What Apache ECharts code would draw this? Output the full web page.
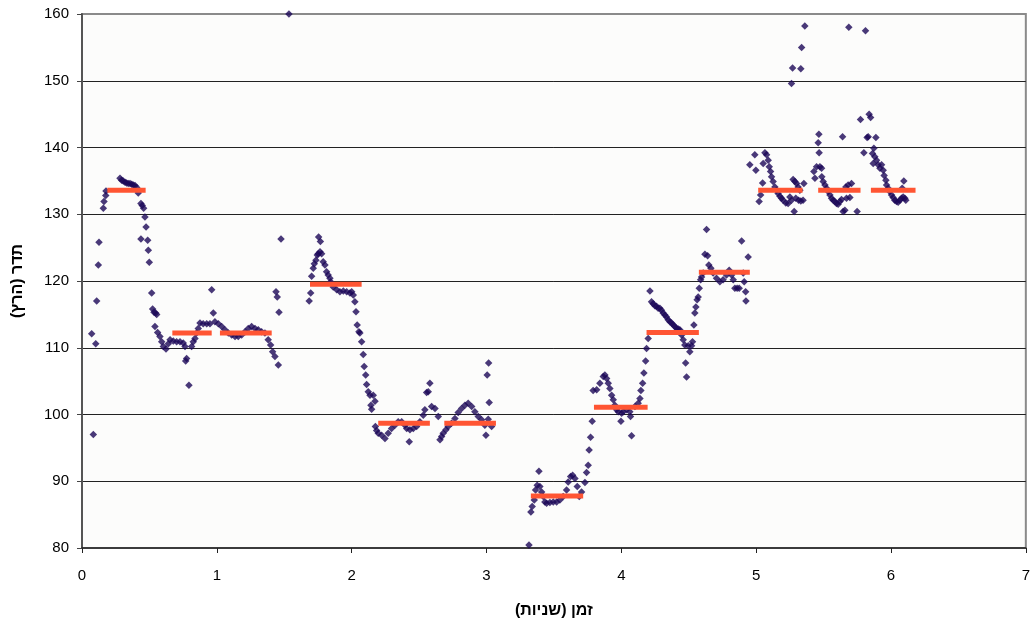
<!DOCTYPE html>
<html>
<head>
<meta charset="utf-8">
<script src="https://cdn.jsdelivr.net/npm/echarts@6/dist/echarts.min.js"></script>
<style>
html,body{margin:0;padding:0;background:#fff;}
#chart{width:1033px;height:624px;}
</style>
</head>
<body>
<div id="chart"></div>
<script>
// Measured pitch track (time in seconds, frequency in Hz)
var timeSec = [
0.084,0.072,0.102,0.109,0.121,0.126,0.158,0.163,0.176,0.178,
0.282,0.294,0.306,0.319,0.331,0.343,0.356,0.369,0.380,0.393,0.406,0.417,
0.437,0.447,0.457,0.467,0.475,0.437,0.487,0.492,0.499,0.517,0.524,0.534,0.546,0.554,0.541,0.561,
0.578,0.591,0.603,0.623,0.640,0.653,0.677,0.702,0.727,0.751,0.764,0.776,0.769,0.793,
0.813,0.825,0.838,0.850,0.862,0.875,0.899,0.925,0.949,0.962,0.974,0.986,
1.011,1.036,1.060,1.085,1.110,1.135,1.159,1.184,1.209,1.233,1.258,1.283,1.307,1.332,1.357,
1.381,1.399,1.414,1.431,1.456,1.439,1.448,1.461,1.476,1.535,
1.685,1.696,1.703,1.715,1.723,1.735,1.745,1.752,1.755,1.765,1.768,1.777,1.789,1.802,1.814,1.826,1.839,1.844,
1.863,1.889,1.913,1.938,1.963,1.987,2.000,2.012,2.024,2.032,2.041,2.054,2.061,2.074,2.086,2.093,2.104,2.111,2.123,2.136,2.160,2.173,2.143,2.148,
2.176,2.185,2.197,2.222,2.247,2.271,2.296,2.321,2.345,2.371,2.395,2.408,2.427,2.432,2.457,2.482,2.506,2.531,2.543,2.556,2.580,2.568,2.593,2.618,2.642,
2.655,2.667,2.679,2.699,2.716,2.741,2.766,2.790,2.815,2.840,2.864,2.890,2.914,2.939,2.964,2.988,2.996,3.013,3.020,3.005,3.016,3.038,
3.315,3.329,3.339,3.354,3.364,3.376,3.389,3.396,3.409,3.421,3.433,3.446,3.470,3.495,3.520,3.544,3.569,3.594,3.606,3.624,3.639,3.656,3.673,3.688,3.705,3.730,3.742,3.754,3.761,3.772,3.784,
3.791,3.817,3.841,3.866,3.878,3.891,3.903,3.915,3.928,3.940,3.952,3.965,3.977,4.002,3.997,4.014,4.039,4.063,4.068,4.076,4.101,4.125,4.138,4.145,4.158,4.167,4.180,4.187,4.199,
4.212,4.224,4.236,4.249,4.261,4.273,4.286,4.298,4.310,4.323,4.335,4.347,4.360,4.373,4.385,4.397,4.410,4.422,4.434,4.447,4.459,4.471,4.477,4.484,4.496,4.508,4.521,4.528,
4.538,4.545,4.553,4.562,4.570,4.578,4.588,4.595,4.607,4.620,4.632,4.640,4.649,4.664,4.681,4.706,4.731,4.755,4.780,4.800,4.818,4.830,4.842,4.859,4.874,4.892,4.904,4.911,4.922,4.924,4.941,
4.953,4.990,4.998,5.022,5.033,5.048,5.052,5.065,5.077,5.089,5.097,5.107,5.114,5.126,5.139,5.151,5.163,5.176,5.188,5.200,5.220,5.237,5.250,5.262,5.282,5.274,5.287,5.300,5.311,5.324,5.294,5.315,5.331,5.348,5.354,
5.361,5.337,5.270,5.331,5.262,
5.428,5.436,5.448,5.460,5.465,5.467,5.473,5.485,5.487,5.497,5.510,5.522,5.534,5.547,5.559,5.571,5.584,5.596,5.608,5.621,5.633,5.645,5.658,5.665,5.682,5.707,5.670,5.695,5.641,5.749,5.687,5.811,
5.774,5.838,5.849,5.831,5.823,5.888,5.799,5.863,5.873,5.880,5.868,5.893,5.905,5.918,5.930,5.942,5.949,5.962,5.967,5.979,5.991,6.004,6.016,6.028,6.041,6.053,6.066,6.078,6.090,6.103,6.095,6.083,6.110
];
var pitchHz = [
97.0,112.1,110.6,117.0,122.4,125.8,130.9,131.9,132.8,133.5,
135.4,135.1,135.0,134.8,134.7,134.6,134.6,134.5,134.4,134.3,134.0,133.2,
131.6,131.3,130.9,129.6,128.1,126.3,126.1,124.6,122.8,118.2,115.8,115.3,115.2,115.0,113.2,112.3,
111.7,110.9,110.2,109.8,110.6,111.2,111.0,110.9,110.9,110.7,110.2,108.4,108.0,104.4,
110.2,110.9,111.4,112.2,112.9,113.7,113.6,113.6,113.6,118.7,115.2,113.9,
113.6,113.2,112.7,112.2,111.9,111.7,111.7,111.9,112.4,112.9,113.2,112.9,112.7,112.4,112.2,
111.2,110.4,109.4,108.7,107.4,118.4,117.6,115.3,126.3,160.0,
117.0,118.2,120.7,121.9,122.6,123.1,123.9,124.1,126.6,124.4,125.9,124.1,122.9,122.4,121.4,120.9,120.4,119.9,
119.1,118.7,118.4,118.5,118.4,118.2,118.4,117.9,116.9,115.4,113.4,112.4,112.2,110.9,109.0,107.2,105.9,104.5,103.4,102.9,102.9,102.0,101.4,100.8,
98.2,97.6,97.2,96.9,96.4,97.2,97.9,98.4,98.9,98.9,98.4,97.9,95.9,97.7,97.9,98.2,98.9,99.9,100.7,103.3,104.7,103.4,101.2,100.9,99.7,
96.2,96.7,97.2,97.7,98.2,98.7,99.4,100.3,100.9,101.4,101.7,101.2,100.4,99.7,99.2,98.4,96.9,99.3,101.8,105.9,107.7,98.2,
80.45,85.4,86.2,87.2,88.7,89.4,91.5,89.2,88.4,87.7,86.9,86.7,86.8,86.9,86.9,87.2,87.7,88.7,89.9,90.7,90.9,90.4,89.2,87.7,88.4,89.8,91.3,92.4,94.7,96.6,99.0,
103.6,103.7,104.7,105.7,105.9,105.4,104.7,103.9,102.9,102.2,101.4,100.7,100.4,100.2,99.0,100.4,100.7,100.4,99.7,96.8,101.2,101.7,102.4,103.6,104.7,106.2,108.0,109.9,111.4,
118.5,116.9,116.6,116.3,116.2,115.9,115.9,115.6,115.2,114.9,114.6,114.2,113.9,113.7,113.4,113.2,112.9,112.8,112.7,111.9,111.2,110.4,107.7,105.6,110.3,109.4,110.3,110.9,
113.4,115.2,116.1,117.2,117.6,118.9,120.2,120.6,121.2,124.0,127.7,123.8,122.4,121.9,121.2,120.4,119.9,120.2,120.9,121.6,120.9,120.2,118.9,118.9,118.9,126.0,121.2,119.9,118.4,117.0,123.6,
137.4,138.9,136.6,131.9,132.9,134.7,137.6,139.2,138.9,138.1,137.1,136.4,135.6,134.9,134.1,133.6,133.1,132.7,132.4,132.1,131.7,131.6,132.6,132.1,130.4,135.2,134.9,134.6,134.1,133.6,132.4,132.1,132.0,132.1,134.6,
158.2,155.0,151.9,151.8,149.6,
136.4,135.4,137.1,140.7,142.0,139.2,137.1,136.9,135.6,134.9,134.4,133.9,133.4,132.9,132.4,132.1,131.9,131.6,131.5,131.9,132.2,130.4,130.6,134.1,134.4,134.6,132.4,132.5,141.6,130.4,158.0,157.5,
144.2,145.0,144.5,141.6,141.5,141.5,139.2,139.1,139.9,138.6,137.6,138.1,137.4,136.9,137.4,136.6,135.8,135.1,134.4,133.9,133.4,132.9,132.5,132.1,131.9,131.8,132.1,132.4,132.6,132.4,135.0,133.9,132.1
];
// Note levels (horizontal segments)
var segStart = [0.188,0.670,1.023,1.691,2.197,2.687,3.329,3.797,4.187,4.575,5.015,5.460,5.851];
var segEnd   = [0.472,0.962,1.407,2.074,2.580,3.070,3.717,4.195,4.575,4.953,5.344,5.774,6.182];
var segHz    = [133.6,112.2,112.2,119.5,98.7,98.7,87.8,101.1,112.3,121.3,133.6,133.6,133.6];
var xTicks = [0,1,2,3,4,5,6,7];
var yTicks = [80,90,100,110,120,130,140,150,160];

var scatterData = timeSec.map(function(t,i){return [t,pitchHz[i]];});
var segData = [];
segStart.forEach(function(s,i){
  segData.push([s,segHz[i]]);
  segData.push([segEnd[i],segHz[i]]);
  segData.push(null);
});

var chart = echarts.init(document.getElementById('chart'), null, {renderer:'canvas'});
var font = 'Arial, "Liberation Sans", sans-serif';
chart.setOption({
  animation:false,
  backgroundColor:'#ffffff',
  grid:{left:82,right:7,top:14,bottom:76,show:true,backgroundColor:'#fcfcfb',borderColor:'#8a8a8a',borderWidth:2},
  xAxis:{
    type:'value',min:xTicks[0],max:xTicks[xTicks.length-1],interval:1,
    name:'זמן (שניות)',nameLocation:'middle',nameGap:55,
    nameTextStyle:{fontFamily:font,fontSize:16,fontWeight:'bold',color:'#000'},
    axisLine:{show:true,onZero:false,lineStyle:{color:'#222',width:1.5}},
    axisTick:{show:true,inside:false,length:5,lineStyle:{color:'#222'}},
    axisLabel:{fontFamily:font,fontSize:15,color:'#000',margin:20},
    splitLine:{show:false}
  },
  yAxis:{
    type:'value',min:yTicks[0],max:yTicks[yTicks.length-1],interval:10,
    name:'תדר (הרץ)',nameLocation:'middle',nameGap:56,nameRotate:90,
    nameTextStyle:{fontFamily:font,fontSize:16,fontWeight:'bold',color:'#000'},
    axisLine:{show:true,onZero:false,lineStyle:{color:'#555',width:2}},
    axisTick:{show:true,inside:false,length:5,lineStyle:{color:'#444'}},
    axisLabel:{fontFamily:font,fontSize:15,color:'#000',margin:13},
    splitLine:{show:true,showMaxLine:false,showMinLine:false,lineStyle:{color:'#222',width:1}}
  },
  series:[
    {type:'scatter',data:scatterData,symbol:'diamond',symbolSize:7.5,
     itemStyle:{color:'#1c0858'},z:2},
    {type:'line',data:segData,connectNulls:false,symbol:'none',
     lineStyle:{color:'#ff5533',width:5,cap:'butt'},z:3}
  ]
});
</script>
</body>
</html>
